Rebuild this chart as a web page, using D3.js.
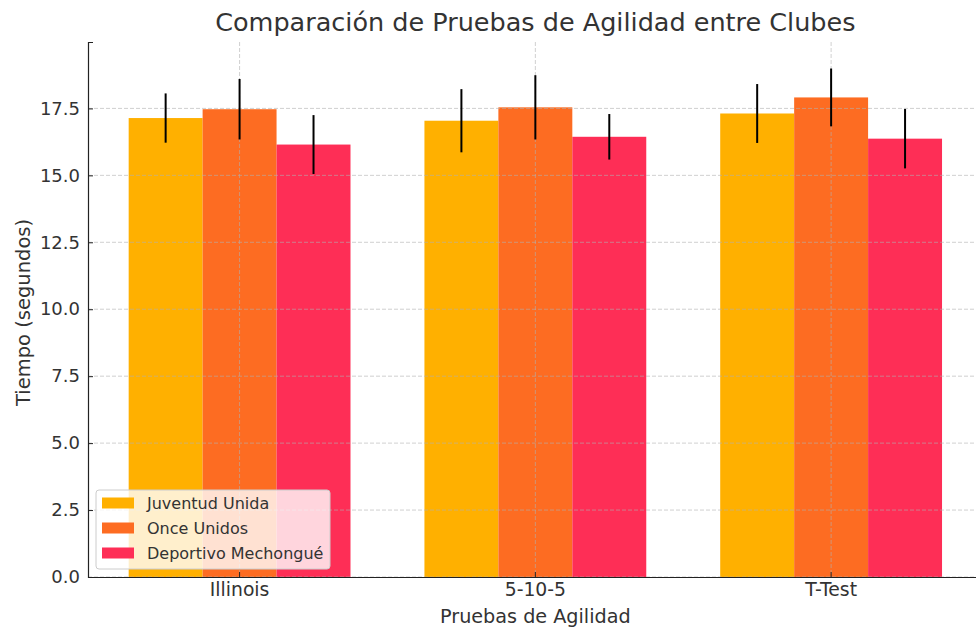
<!DOCTYPE html>
<html>
<head>
<meta charset="utf-8">
<script src="https://cdn.jsdelivr.net/npm/d3@7"></script>
<style>
  body { margin: 0; background: #fff; }
  text { font-family: "DejaVu Sans", sans-serif; fill: #333; }
  .title { font-size: 25.5px; }
</style>
</head>
<body>
<svg width="976" height="630"></svg>
<script>
const svg = d3.select('svg');

// data
const tests = ['Illinois', '5-10-5', 'T-Test'];
const clubs = ['Juventud Unida', 'Once Unidos', 'Deportivo Mechongué'];
const juventud = [17.14, 17.04, 17.31];
const once = [17.47, 17.54, 17.91];
const deportivo = [16.15, 16.44, 16.37];
const errJuventud = [0.92, 1.18, 1.10];
const errOnce = [1.13, 1.20, 1.08];
const errDeportivo = [1.10, 0.85, 1.11];
const yTicks = [0, 2.5, 5, 7.5, 10, 12.5, 15, 17.5];
const colors = ['#FFB000', '#FD6C22', '#FE2E56'];

const seriesValues = [juventud, once, deportivo];
const seriesErr = [errJuventud, errOnce, errDeportivo];

//margin conventions
const margin = { top: 42, left: 88, bottom: 53 };
const plotW = 894.7;
const plotH = 630 - margin.top - margin.bottom;

const g = svg.append('g')
  .attr('transform', `translate(${margin.left},${margin.top})`);

const x0 = d3.scaleBand()
  .domain(tests)
  .range([0, plotW])
  .paddingInner(0.25)
  .paddingOuter(0.1375);

const x1 = d3.scaleBand()
  .domain(clubs)
  .range([0, x0.bandwidth()]);

const y = d3.scaleLinear()
  .domain([0, 19.98])
  .range([plotH, 0]);

const rows = [];
tests.forEach((t, i) => {
  clubs.forEach((c, j) => {
    rows.push({ test: t, club: c, value: seriesValues[j][i], err: seriesErr[j][i], color: colors[j] });
  });
});

// bars
g.selectAll('rect.bar').data(rows)
  .enter()
  .append('rect')
  .attr('class', 'bar')
  .attr('x', d => x0(d.test) + x1(d.club))
  .attr('y', d => y(d.value))
  .attr('width', x1.bandwidth())
  .attr('height', d => plotH - y(d.value))
  .attr('fill', d => d.color);

// grid on top of bars (matplotlib style)
g.append('g').selectAll('line').data(yTicks)
  .enter().append('line')
  .attr('x1', 0).attr('x2', plotW)
  .attr('y1', d => y(d)).attr('y2', d => y(d))
  .attr('stroke', '#b0b0b0').attr('stroke-opacity', 0.6)
  .attr('stroke-dasharray', '4,2');

g.append('g').selectAll('line').data(tests)
  .enter().append('line')
  .attr('x1', d => x0(d) + x0.bandwidth() / 2)
  .attr('x2', d => x0(d) + x0.bandwidth() / 2)
  .attr('y1', 0).attr('y2', plotH)
  .attr('stroke', '#b0b0b0').attr('stroke-opacity', 0.6)
  .attr('stroke-dasharray', '4,2');

// error bars
g.selectAll('line.err').data(rows)
  .enter()
  .append('line')
  .attr('class', 'err')
  .attr('x1', d => x0(d.test) + x1(d.club) + x1.bandwidth() / 2)
  .attr('x2', d => x0(d.test) + x1(d.club) + x1.bandwidth() / 2)
  .attr('y1', d => y(d.value - d.err))
  .attr('y2', d => y(d.value + d.err))
  .attr('stroke', '#000')
  .attr('stroke-width', 2);

// axes (ticks point inward)
const yAxis = g.append('g')
  .call(d3.axisLeft(y).tickValues(yTicks).tickFormat(d3.format('.1f')).tickSize(-5).tickPadding(8));
yAxis.select('.domain').attr('stroke', '#222').attr('stroke-width', 1.2);
yAxis.selectAll('.tick line').attr('stroke', '#222');
yAxis.selectAll('.tick text').attr('font-size', 18).attr('fill', '#333')
  .attr('font-family', '"DejaVu Sans", sans-serif');

const xAxis = g.append('g')
  .attr('transform', `translate(0,${plotH})`)
  .call(d3.axisBottom(x0).tickSize(-5).tickSizeOuter(0).tickPadding(6));
xAxis.select('.domain').attr('stroke', '#222').attr('stroke-width', 1.2);
xAxis.selectAll('.tick line').attr('stroke', '#222');
xAxis.selectAll('.tick text').attr('font-size', 18.8).attr('fill', '#333')
  .attr('font-family', '"DejaVu Sans", sans-serif');

// legend
const legend = g.append('g')
  .attr('transform', `translate(8,${plotH - 87})`);
legend.append('rect')
  .attr('width', 234).attr('height', 79)
  .attr('rx', 3)
  .attr('fill', '#fff').attr('fill-opacity', 0.8)
  .attr('stroke', '#ccc');
clubs.forEach((c, j) => {
  const row = legend.append('g').attr('transform', `translate(6,${13 + j * 25})`);
  row.append('rect')
    .attr('x', 0).attr('y', -5.5)
    .attr('width', 32).attr('height', 11)
    .attr('fill', colors[j]);
  row.append('text')
    .text(c)
    .attr('x', 45).attr('y', 6)
    .attr('font-size', 16);
});

// labels
svg.append('text')
  .text('Comparación de Pruebas de Agilidad entre Clubes')
  .attr('class', 'title')
  .attr('x', margin.left + plotW / 2)
  .attr('y', 31)
  .attr('text-anchor', 'middle');

svg.append('text')
  .text('Pruebas de Agilidad')
  .attr('x', margin.left + plotW / 2)
  .attr('y', 623)
  .attr('text-anchor', 'middle')
  .attr('font-size', 19.2);

svg.append('text')
  .text('Tiempo (segundos)')
  .attr('transform', `translate(30,${margin.top + plotH / 2 + 3}) rotate(-90)`)
  .attr('text-anchor', 'middle')
  .attr('font-size', 19.5);
</script>
</body>
</html>
